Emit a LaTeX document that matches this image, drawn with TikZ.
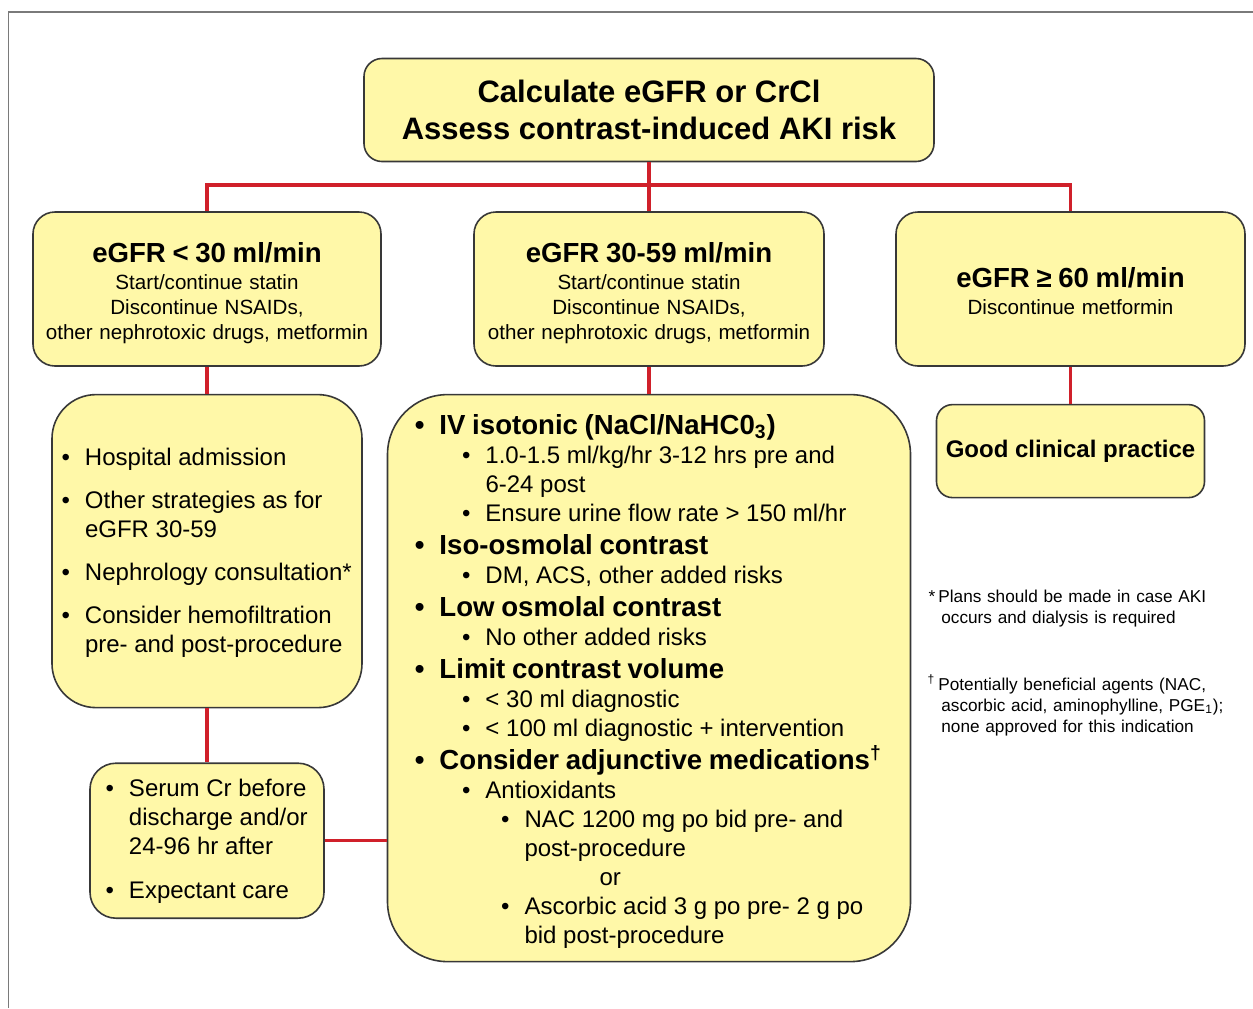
\documentclass[tikz,border=0pt]{standalone}
\usepackage{fontspec}
\setmainfont{Liberation Sans}
\usetikzlibrary{positioning}
\definecolor{boxfill}{HTML}{FFF8A8}
\definecolor{edge}{HTML}{383838}
\definecolor{linkred}{HTML}{D0202A}
\definecolor{framegray}{HTML}{7A7A7A}
\newcommand{\ttlfont}{\fontsize{15.5pt}{18.5pt}\selectfont\bfseries}
\newcommand{\hdfont}{\fontsize{13.8pt}{16.5pt}\selectfont\bfseries}
\newcommand{\lstfont}{\fontsize{12pt}{14.5pt}\selectfont\mdseries}
\newcommand{\subfont}{\fontsize{10.3pt}{12.5pt}\selectfont}
\newcommand{\fnfont}{\fontsize{8.6pt}{10.5pt}\selectfont}
% bullet line: font, indent, text
\newcommand{\bitem}[3]{\par#1\leftskip=#2\relax\noindent\llap{•\hspace{7.5pt}}#3}

\begin{document}
\begin{tikzpicture}[x=0.5pt, y=-0.5pt,
  box/.style     = {draw=edge, fill=boxfill, rounded corners=11pt,
                    line width=0.8pt, inner sep=0pt, align=center},
  listbox/.style = {box, align=left},
  link/.style    = {draw=linkred, line width=1.6pt},
  note/.style    = {anchor=north west, inner sep=0pt, text width=150pt,
                    align=left, font=\fnfont}
]
\useasboundingbox (0,0) rectangle (1253,1008);
\draw[framegray, line width=0.75pt] (8.5,1008) -- (8.5,12) -- (1253,12);

\node[box, minimum width=285pt, minimum height=51.5pt, rounded corners=9pt,
      font=\ttlfont] (calc) at (649,110)
  {Calculate eGFR or CrCl\\Assess contrast-induced AKI risk};

\node[box, text width=174pt, minimum height=77pt] (low) at (207,289)
  {{\hdfont eGFR < 30 ml/min\par}\vspace{1pt}
   {\subfont Start/continue statin\\Discontinue NSAIDs,\\other nephrotoxic drugs, metformin\par}
   \kern-4pt};
\node[box, text width=175pt, minimum height=77pt] (mid) at (649,289)
  {{\hdfont eGFR 30-59 ml/min\par}\vspace{1pt}
   {\subfont Start/continue statin\\Discontinue NSAIDs,\\other nephrotoxic drugs, metformin\par}
   \kern-4pt};
\node[box, text width=174.5pt, minimum height=77pt] (high) at (1070.5,289)
  {{\hdfont eGFR ≥ 60 ml/min\par}\vspace{1pt}
   {\subfont Discontinue metformin\par}
   \kern-2pt};

\node[listbox, text width=152pt, minimum width=155pt, minimum height=156.5pt,
      rounded corners=22pt, below=13.5pt of low] (lowcare)
  {\bitem{\lstfont}{15pt}{Hospital admission}\par\vspace{7pt}
   \bitem{\lstfont}{15pt}{Other strategies as for\\eGFR 30-59}\par\vspace{7pt}
   \bitem{\lstfont}{15pt}{Nephrology consultation*}\par\vspace{7pt}
   \bitem{\lstfont}{15pt}{Consider hemofiltration\\pre- and post-procedure}\par
   \kern4pt};

\node[listbox, text width=249.5pt, minimum width=261.5pt, minimum height=283.5pt,
      rounded corners=30pt, below=13.5pt of mid] (midcare)
  {\bitem{\hdfont}{20pt}{IV isotonic (NaCl/NaHC0\textsubscript{3})}
   \bitem{\lstfont}{43pt}{1.0-1.5 ml/kg/hr 3-12 hrs pre and\\6-24 post}
   \bitem{\lstfont}{43pt}{Ensure urine flow rate > 150 ml/hr}
   \bitem{\hdfont}{20pt}{Iso-osmolal contrast}
   \bitem{\lstfont}{43pt}{DM, ACS, other added risks}
   \bitem{\hdfont}{20pt}{Low osmolal contrast}
   \bitem{\lstfont}{43pt}{No other added risks}
   \bitem{\hdfont}{20pt}{Limit contrast volume}
   \bitem{\lstfont}{43pt}{< 30 ml diagnostic}
   \bitem{\lstfont}{43pt}{< 100 ml diagnostic + intervention}
   \bitem{\hdfont}{20pt}{Consider adjunctive medications\textsuperscript{†}}
   \bitem{\lstfont}{43pt}{Antioxidants}
   \bitem{\lstfont}{62.5pt}{NAC 1200 mg po bid pre- and\\post-procedure}
   \par\leftskip=100pt\noindent or
   \bitem{\lstfont}{62.5pt}{Ascorbic acid 3 g po pre- 2 g po\\bid post-procedure}\par
   \kern3pt};

\node[box, minimum width=134pt, minimum height=46.5pt, rounded corners=8pt,
      font=\fontsize{12pt}{14.5pt}\selectfont\bfseries, below=18.5pt of high] (highcare)
  {Good clinical practice};

\node[listbox, text width=112pt, minimum width=117pt, minimum height=77.5pt,
      rounded corners=13pt, below=27pt of lowcare] (follow)
  {\bitem{\lstfont}{17pt}{Serum Cr before\\discharge and/or\\24-96 hr after}\par\vspace{7.5pt}
   \bitem{\lstfont}{17pt}{Expectant care}\par
   \kern5pt};

% connectors
\coordinate (split) at (649,185);
\draw[link] (calc.south) -- (mid.north);
\draw[link] (low.north) |- (split) -| (high.north);
\draw[link] (low.south) -- (lowcare.north);
\draw[link] (mid.south) -- (midcare.north);
\draw[link] (high.south) -- (highcare.north);
\draw[link] (lowcare.south) -- (follow.north);
\draw[link] (follow.east) -- (follow.east -| midcare.west);

% footnotes
\node[note] (fnstar) at (938,590)
  {\llap{*\hspace{1.5pt}}Plans should be made in case AKI\\\hspace*{1.5pt}occurs and dialysis is required};
\node[note] (fndagger) at (938,674)
  {\llap{\textsuperscript{†}\hspace{1.5pt}}Potentially beneficial agents (NAC,\\\hspace*{1.5pt}ascorbic acid, aminophylline, PGE\textsubscript{1});\\\hspace*{1.5pt}none approved for this indication};
\end{tikzpicture}
\end{document}
